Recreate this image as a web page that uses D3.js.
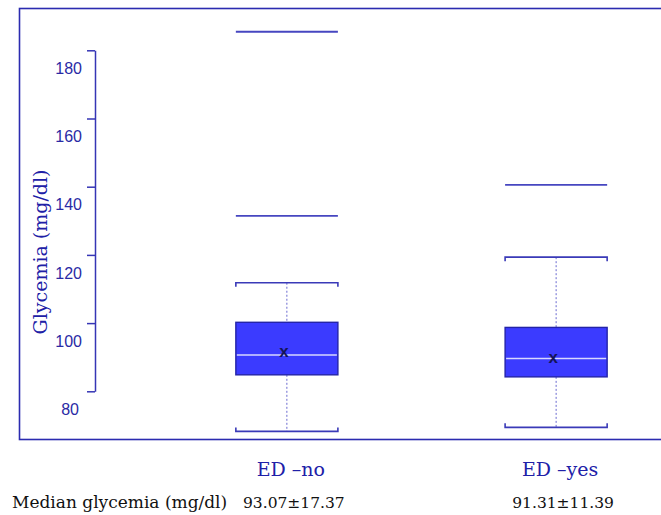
<!DOCTYPE html>
<html>
<head>
<meta charset="utf-8">
<script src="https://cdn.jsdelivr.net/npm/d3@7"></script>
<style>
  html, body { margin: 0; padding: 0; background: #fff; }
  svg { display: block; }
</style>
</head>
<body>
<svg id="chart" width="661" height="515"></svg>
<script>
// Glycemia by ED group
const groups      = ["ED –no", "ED –yes"];
const summaryText = ["93.07±17.37", "91.31±11.39"];
const means       = [93.07, 91.31];
const medians     = [92.1, 91.1];
const q1          = [86.3, 85.7];
const q3          = [101.7, 100.2];
const whiskerLow  = [69.7, 70.9];
const whiskerHigh = [113.3, 120.8];
const outliers    = [[132.9, 186.9], [142.0]];
const yTicks      = [80, 100, 120, 140, 160, 180];

const svg = d3.select("#chart");
const frameColor = "#2b2bb0";
const axisColor  = "#3535b5";
const serif = "'DejaVu Serif', 'Liberation Serif', serif";

// plot frame
svg.append("rect")
  .attr("x", 19.5).attr("y", 8.5)
  .attr("width", 660).attr("height", 431)
  .attr("fill", "none")
  .attr("stroke", frameColor)
  .attr("stroke-width", 1.6);

const y = d3.scaleLinear().domain([80, 180]).range([396.3, 55.3]);
const x = d3.scaleBand().domain(groups).range([182, 661]).paddingInner(0.621).paddingOuter(0.2);

// y axis: tick marks sit a little above the value positions, labels below them
const axisG = svg.append("g")
  .attr("transform", "translate(95,-5)")
  .call(d3.axisLeft(y).tickValues(yTicks).tickSize(8).tickSizeOuter(0).tickFormat(d3.format("d")));
axisG.select(".domain").attr("stroke", axisColor).attr("stroke-width", 1.5);
axisG.selectAll(".tick line").attr("stroke", axisColor).attr("stroke-width", 1.5);
axisG.selectAll(".tick text")
  .attr("x", -13)
  .attr("dy", "1.45em")
  .attr("fill", "#2a2aa5")
  .style("font-family", "'Liberation Sans', Arial, sans-serif")
  .style("font-size", "16px");
axisG.selectAll(".tick").filter(d => d === 80).select("text").attr("x", -16);

// y title
svg.append("text")
  .attr("transform", "translate(47,252) rotate(-90)")
  .attr("text-anchor", "middle")
  .attr("fill", "#2020a6")
  .style("font-family", serif)
  .style("font-size", "19px")
  .text("Glycemia (mg/dl)");

const boxes = svg.append("g").selectAll("g").data(groups).join("g");

boxes.each(function(g, i) {
  const sel = d3.select(this);
  const x0 = x(g), w = x.bandwidth(), cx = x0 + w / 2;

  // dotted whisker stems
  sel.append("line")
    .attr("x1", cx).attr("x2", cx)
    .attr("y1", y(whiskerHigh[i])).attr("y2", y(q3[i]))
    .attr("stroke", "#6a6ad0").attr("stroke-width", 1).attr("stroke-dasharray", "2,2");
  sel.append("line")
    .attr("x1", cx).attr("x2", cx)
    .attr("y1", y(q1[i])).attr("y2", y(whiskerLow[i]))
    .attr("stroke", "#6a6ad0").attr("stroke-width", 1).attr("stroke-dasharray", "2,2");

  // whisker caps (brackets)
  const capColor = "#3a3ab8";
  const yh = y(whiskerHigh[i]), yl = y(whiskerLow[i]);
  sel.append("path")
    .attr("d", `M${x0},${yh + 4}V${yh}H${x0 + w}V${yh + 4}`)
    .attr("fill", "none").attr("stroke", capColor).attr("stroke-width", 1.6);
  sel.append("path")
    .attr("d", `M${x0},${yl - 4}V${yl}H${x0 + w}V${yl - 4}`)
    .attr("fill", "none").attr("stroke", capColor).attr("stroke-width", 1.6);

  // box
  sel.append("rect")
    .attr("x", x0).attr("y", y(q3[i]))
    .attr("width", w).attr("height", y(q1[i]) - y(q3[i]))
    .attr("fill", "#3b3bff").attr("stroke", "#2424a8").attr("stroke-width", 1.4);

  // median
  sel.append("line")
    .attr("x1", x0 + 1).attr("x2", x0 + w - 1)
    .attr("y1", y(medians[i])).attr("y2", y(medians[i]))
    .attr("stroke", "#d8d8ff").attr("stroke-width", 1.4);

  // mean marker
  sel.append("text")
    .attr("x", cx - 3).attr("y", y(means[i]))
    .attr("dy", "0.3em")
    .attr("text-anchor", "middle")
    .attr("fill", "#141458")
    .style("font-family", "'Liberation Sans', Arial, sans-serif")
    .style("font-size", "17px")
    .style("font-weight", "bold")
    .text("x");

  // outlier lines
  sel.selectAll("line.out").data(outliers[i]).join("line")
    .attr("class", "out")
    .attr("x1", x0).attr("x2", x0 + w)
    .attr("y1", d => y(d)).attr("y2", d => y(d))
    .attr("stroke", "#4646c0").attr("stroke-width", 1.8);
});

// category labels
svg.append("g").selectAll("text").data(groups).join("text")
  .attr("x", d => x(d) + x.bandwidth() / 2 + 4)
  .attr("y", 476)
  .attr("text-anchor", "middle")
  .attr("fill", "#2020a8")
  .style("font-family", serif)
  .style("font-size", "19px")
  .text(d => d);

// summary row
svg.append("text")
  .attr("x", 12).attr("y", 508)
  .attr("fill", "#111")
  .style("font-family", serif)
  .style("font-size", "17px")
  .text("Median glycemia (mg/dl)");
svg.append("g").selectAll("text").data(groups).join("text")
  .attr("x", d => x(d) + x.bandwidth() / 2 + 7)
  .attr("y", 508)
  .attr("text-anchor", "middle")
  .attr("fill", "#111")
  .style("font-family", serif)
  .style("font-size", "15.5px")
  .text((d, i) => summaryText[i]);
</script>
</body>
</html>
